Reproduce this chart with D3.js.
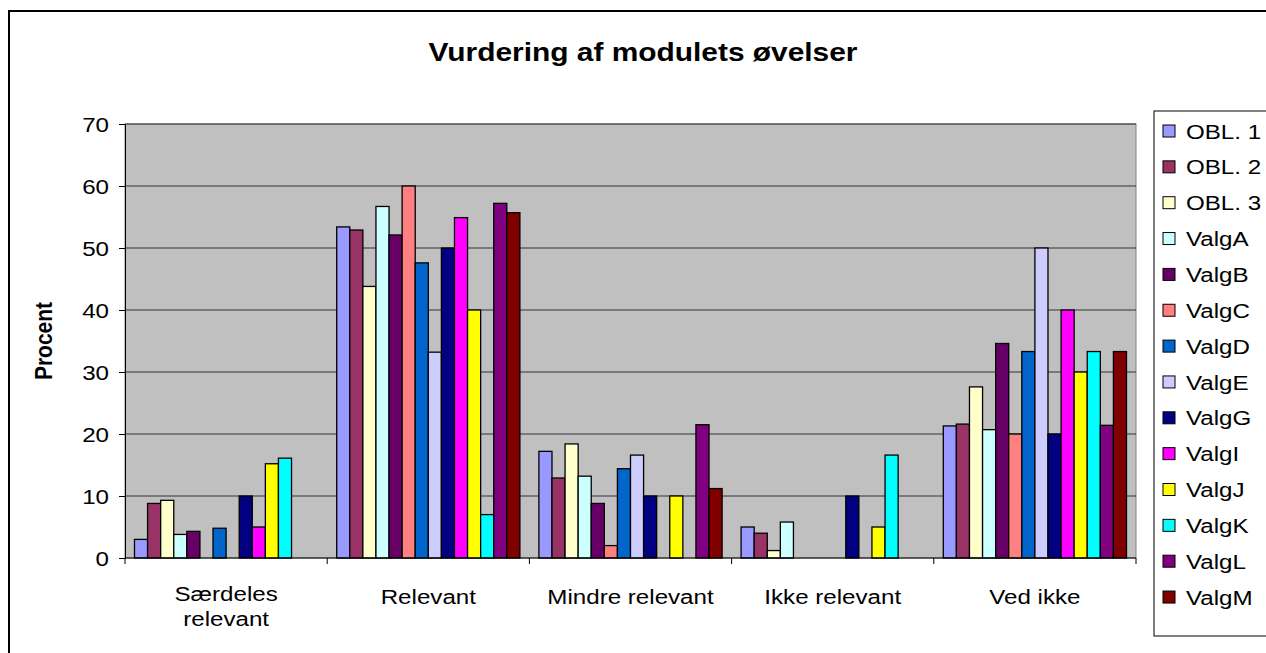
<!DOCTYPE html>
<html>
<head>
<meta charset="utf-8">
<script src="https://cdn.jsdelivr.net/npm/d3@7"></script>
<style>
  body { margin: 0; background: #fff; }
  svg text { font-family: Arial, "Liberation Sans", sans-serif; fill: #000; }
</style>
</head>
<body>
<svg id="chart" width="1266" height="653"></svg>
<script>
var categories = [['Særdeles', 'relevant'], ['Relevant'], ['Mindre relevant'], ['Ikke relevant'], ['Ved ikke']];
var seriesNames = ['OBL. 1', 'OBL. 2', 'OBL. 3', 'ValgA', 'ValgB', 'ValgC', 'ValgD', 'ValgE', 'ValgG', 'ValgI', 'ValgJ', 'ValgK', 'ValgL', 'ValgM'];
var seriesColors = ['#9999FF', '#993366', '#FFFFCC', '#CCFFFF', '#660066', '#FF8080', '#0066CC', '#CCCCFF', '#000080', '#FF00FF', '#FFFF00', '#00FFFF', '#800080', '#800000'];
// one array per category, values in series order
var saerdeles = [3, 8.8, 9.3, 3.8, 4.3, 0, 4.8, 0, 10, 5, 15.2, 16.1, 0, 0];
var relevant = [53.4, 52.9, 43.8, 56.7, 52.1, 60, 47.6, 33.2, 50, 54.9, 40, 7, 57.2, 55.7];
var mindre = [17.2, 12.9, 18.4, 13.2, 8.8, 2, 14.4, 16.6, 10, 0, 10, 0, 21.5, 11.2];
var ikke = [5, 4, 1.2, 5.8, 0, 0, 0, 0, 10, 0, 5, 16.6, 0, 0];
var vedIkke = [21.3, 21.6, 27.6, 20.7, 34.6, 20, 33.3, 50, 20, 40, 30, 33.3, 21.4, 33.3];
var yTicks = [0, 10, 20, 30, 40, 50, 60, 70];

var values = [saerdeles, relevant, mindre, ikke, vedIkke];

var plot = { left: 125, right: 1136, top: 124, bottom: 558 };
var sx = 1.15; // the picture is a bit stretched sideways, text too
var svg = d3.select('#chart');

function wideText(parent, x, y, str, size, anchor, weight) {
    var t = parent.append('g')
        .attr('transform', 'translate(' + x + ',' + y + ') scale(' + sx + ',1)')
        .append('text')
        .attr('text-anchor', anchor || 'start')
        .style('font-size', size + 'px')
        .text(str);
    if (weight) t.style('font-weight', weight);
    return t;
}

// outer chart border (runs past the right and bottom edges)
svg.append('rect')
    .attr('x', 9).attr('y', 11)
    .attr('width', 1270).attr('height', 660)
    .attr('fill', '#fff').attr('stroke', '#000').attr('stroke-width', 2);

wideText(svg, 643, 61, 'Vurdering af modulets øvelser', 26, 'middle', 'bold');

var y = d3.scaleLinear().domain([0, 70]).range([plot.bottom, plot.top]);
var x0 = d3.scaleBand().domain(d3.range(categories.length)).range([plot.left, plot.right]);
var gap = 19;
var x1 = d3.scaleBand().domain(d3.range(seriesNames.length))
    .range([gap / 2, x0.bandwidth() - gap / 2]);

// plot area
svg.append('rect')
    .attr('x', plot.left).attr('y', plot.top)
    .attr('width', plot.right - plot.left).attr('height', plot.bottom - plot.top)
    .attr('fill', '#C0C0C0').attr('stroke', '#808080');

svg.append('g').selectAll('line')
    .data(yTicks.filter(function (d) { return d > 0; }))
    .join('line')
    .attr('x1', plot.left).attr('x2', plot.right)
    .attr('y1', function (d) { return y(d); }).attr('y2', function (d) { return y(d); })
    .attr('stroke', '#333').attr('stroke-width', 1);

// bars, empty values are left out but keep their slot
var groups = svg.append('g').selectAll('g')
    .data(values)
    .join('g')
    .attr('transform', function (d, i) { return 'translate(' + x0(i) + ',0)'; });

groups.selectAll('rect')
    .data(function (d) {
        return d.map(function (v, i) { return { v: v, s: i }; })
            .filter(function (o) { return o.v > 0; });
    })
    .join('rect')
    .attr('x', function (d) { return x1(d.s); })
    .attr('y', function (d) { return y(d.v); })
    .attr('width', x1.bandwidth())
    .attr('height', function (d) { return y(0) - y(d.v); })
    .attr('fill', function (d) { return seriesColors[d.s]; })
    .attr('stroke', '#000').attr('stroke-width', 1.3);

// y axis
var yAxis = svg.append('g')
    .attr('transform', 'translate(' + plot.left + ',0)')
    .call(d3.axisLeft(y).tickValues(yTicks).tickSize(6).tickPadding(0));
yAxis.selectAll('text')
    .style('font-size', '21px')
    .attr('x', -16 / sx)
    .attr('dy', '0.36em')
    .attr('transform', 'scale(' + sx + ',1)');
yAxis.selectAll('line, path').attr('stroke', '#000');

// x axis
var xAxis = svg.append('g')
    .attr('transform', 'translate(0,' + plot.bottom + ')');
xAxis.append('line')
    .attr('x1', plot.left).attr('x2', plot.right)
    .attr('stroke', '#000');
xAxis.selectAll('.tick')
    .data(d3.range(categories.length + 1))
    .join('line')
    .attr('class', 'tick')
    .attr('x1', function (d) { return plot.left + d * x0.step(); })
    .attr('x2', function (d) { return plot.left + d * x0.step(); })
    .attr('y1', 0).attr('y2', 6)
    .attr('stroke', '#000');

categories.forEach(function (lines, i) {
    var cx = x0(i) + x0.bandwidth() / 2;
    lines.forEach(function (line, k) {
        wideText(svg, cx, (lines.length > 1 ? 601 : 604) + k * 25, line, 21, 'middle');
    });
});

svg.append('text')
    .attr('transform', 'translate(52,' + ((plot.top + plot.bottom) / 2) + ') rotate(-90) scale(1.05,1.15)')
    .attr('text-anchor', 'middle')
    .style('font-weight', 'bold').style('font-size', '20px')
    .text('Procent');

// legend
var legend = svg.append('g').attr('transform', 'translate(1154,111)');
legend.append('rect')
    .attr('width', 130).attr('height', 525)
    .attr('fill', '#fff').attr('stroke', '#000');

var items = legend.selectAll('g.item')
    .data(seriesNames)
    .join('g')
    .attr('class', 'item')
    .attr('transform', function (d, i) { return 'translate(0,' + (20 + i * 35.85) + ')'; });
items.append('rect')
    .attr('x', 9).attr('y', -6)
    .attr('width', 12).attr('height', 12)
    .attr('fill', function (d, i) { return seriesColors[i]; })
    .attr('stroke', '#000');
items.append('text')
    .attr('transform', 'translate(32,0) scale(' + sx + ',1)')
    .attr('dy', '0.36em')
    .style('font-size', '21px')
    .text(function (d) { return d; });
</script>
</body>
</html>
